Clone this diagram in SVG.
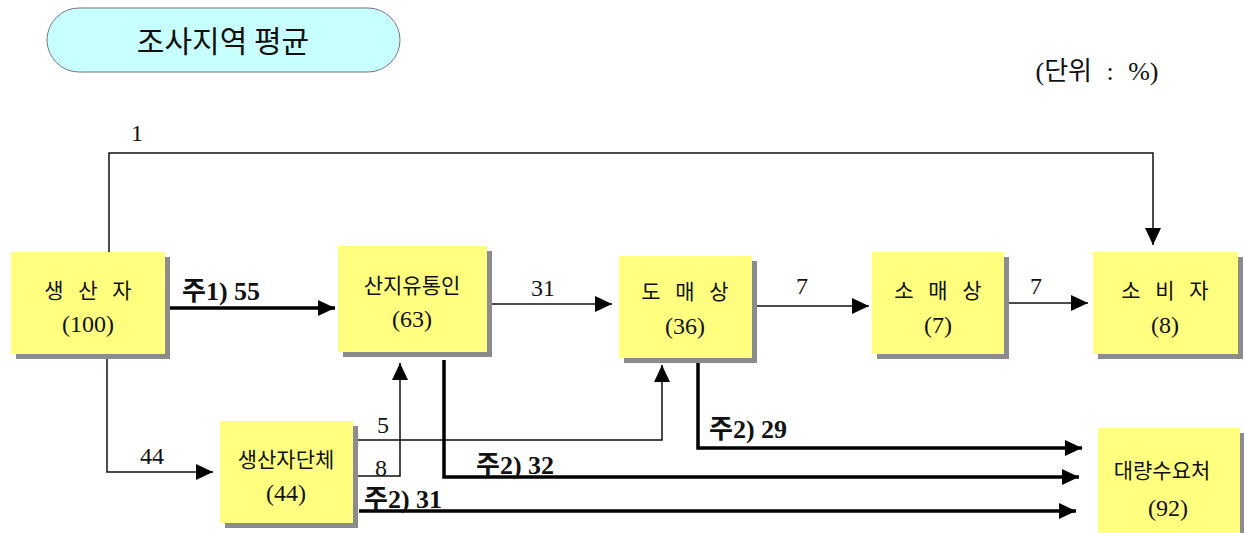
<svg xmlns="http://www.w3.org/2000/svg" width="1244" height="533" viewBox="0 0 1244 533">
<style>
.box{fill:#ffff80}
.sh{fill:#8c8c8c}
.t{font-family:"Liberation Serif","Noto Sans CJK KR",serif;font-size:24px;fill:#111;text-anchor:middle}
.k{font-family:"Noto Sans CJK KR","Liberation Sans",sans-serif;font-size:21px;fill:#111;text-anchor:middle}
.sp{word-spacing:10px}
.lb{font-family:"Liberation Serif","Noto Sans CJK KR",serif;font-size:24px;fill:#111}
.b{font-weight:bold;font-size:26px}
.thin{fill:none;stroke:#111;stroke-width:1.5}
.thick{fill:none;stroke:#000;stroke-width:3.5}
</style>
<defs>
<marker id="ah" markerUnits="userSpaceOnUse" markerWidth="18" markerHeight="18" refX="17" refY="9" orient="auto"><path d="M0,1 L17,9 L0,17 z" fill="#000"/></marker>
</defs>
<g id="title">
<rect x="47" y="8" width="353" height="64" rx="32" ry="32" fill="#c8ffff" stroke="#777" stroke-width="1"/>
<text x="223" y="52" font-family="Noto Sans CJK KR, Liberation Sans, sans-serif" font-size="30" text-anchor="middle" fill="#111">조사지역 평균</text>
</g>
<text x="1097" y="80" class="lb" text-anchor="middle" style="font-size:26px;word-spacing:8px">(단위 : %)</text>
<g id="connectors">
<polyline class="thin" points="109,252 109,153 1153,153 1153,245" marker-end="url(#ah)"/>
<text x="137" y="141" class="lb" text-anchor="middle">1</text>
<line class="thick" x1="168" y1="308" x2="335" y2="308" marker-end="url(#ah)"/>
<text x="182" y="300" class="lb b">주1) 55</text>
<line class="thin" x1="490" y1="304" x2="612" y2="304" marker-end="url(#ah)"/>
<text x="543" y="296" class="lb" text-anchor="middle">31</text>
<line class="thin" x1="752" y1="306" x2="869" y2="306" marker-end="url(#ah)"/>
<text x="802" y="294" class="lb" text-anchor="middle">7</text>
<line class="thin" x1="1004" y1="303" x2="1088" y2="303" marker-end="url(#ah)"/>
<text x="1036" y="294" class="lb" text-anchor="middle">7</text>
<polyline class="thin" points="107,357 107,472 213,472" marker-end="url(#ah)"/>
<text x="152" y="464" class="lb" text-anchor="middle">44</text>
<polyline class="thin" points="353,440 662,440 662,365" marker-end="url(#ah)"/>
<text x="383" y="433" class="lb" text-anchor="middle">5</text>
<polyline class="thin" points="353,476 400,476 400,363" marker-end="url(#ah)"/>
<text x="381" y="476" class="lb" text-anchor="middle">8</text>
<polyline class="thick" points="444,360 444,477 1079,477" marker-end="url(#ah)"/>
<text x="476" y="474" class="lb b">주2) 32</text>
<polyline class="thick" points="698,362 698,448 1082,448" marker-end="url(#ah)"/>
<text x="709" y="438" class="lb b">주2) 29</text>
<line class="thick" x1="359" y1="511" x2="1076" y2="511" marker-end="url(#ah)"/>
<text x="364" y="508" class="lb b">주2) 31</text>
</g>
<g id="n1">
<rect class="sh" x="16" y="257" width="154" height="102"/>
<rect class="box" x="11" y="252" width="154" height="102"/>
<text x="88" y="298" class="k sp">생 산 자</text>
<text x="88" y="332" class="t">(100)</text>
</g>
<g id="n2">
<rect class="sh" x="343" y="251" width="149" height="106"/>
<rect class="box" x="338" y="246" width="149" height="106"/>
<text x="412" y="293" class="k">산지유통인</text>
<text x="412" y="327" class="t">(63)</text>
</g>
<g id="n3">
<rect class="sh" x="624" y="261" width="133" height="102"/>
<rect class="box" x="619" y="256" width="133" height="102"/>
<text x="685" y="299" class="k sp">도 매 상</text>
<text x="685" y="334" class="t">(36)</text>
</g>
<g id="n4">
<rect class="sh" x="877" y="257" width="132" height="102"/>
<rect class="box" x="872" y="252" width="132" height="102"/>
<text x="938" y="298" class="k sp">소 매 상</text>
<text x="938" y="333" class="t">(7)</text>
</g>
<g id="n5">
<rect class="sh" x="1098" y="257" width="145" height="102"/>
<rect class="box" x="1093" y="252" width="145" height="102"/>
<text x="1165" y="298" class="k sp">소 비 자</text>
<text x="1165" y="333" class="t">(8)</text>
</g>
<g id="n6">
<rect class="sh" x="1103" y="433" width="142" height="105"/>
<rect class="box" x="1098" y="428" width="142" height="105"/>
<text x="1162" y="478" class="k">대량수요처</text>
<text x="1168" y="516" class="t">(92)</text>
</g>
<g id="n7">
<rect class="sh" x="225" y="426" width="133" height="102"/>
<rect class="box" x="220" y="421" width="133" height="102"/>
<text x="286" y="467" class="k">생산자단체</text>
<text x="286" y="501" class="t">(44)</text>
</g>
</svg>
